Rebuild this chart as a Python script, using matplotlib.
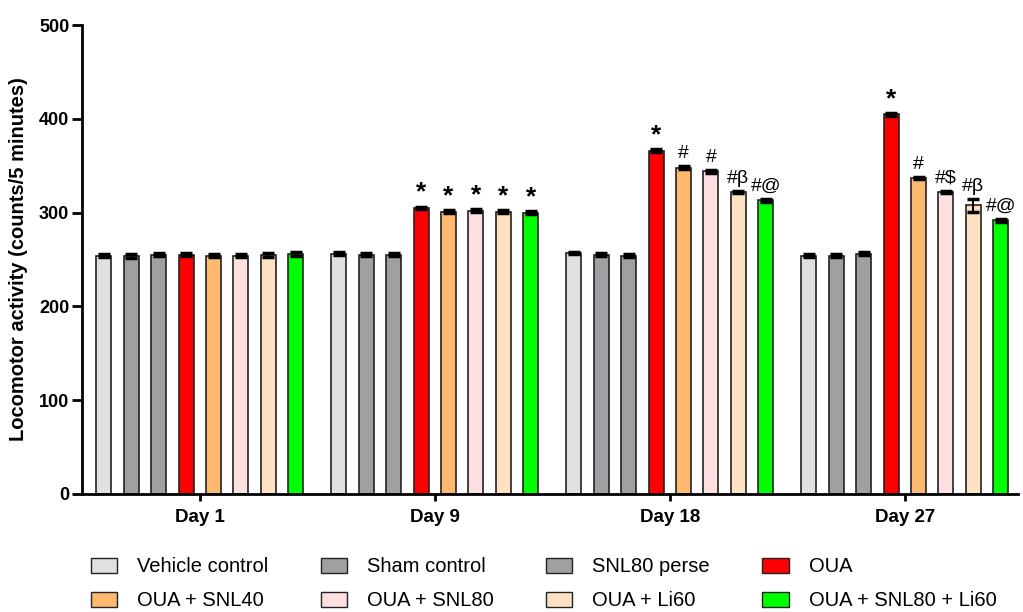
import numpy as np
import matplotlib.pyplot as plt
from matplotlib.patches import Patch

plt.rcParams['font.family'] = ['Liberation Sans', 'DejaVu Sans']

days = ["Day 1", "Day 9", "Day 18", "Day 27"]
groups = ["Vehicle control", "Sham control", "SNL80 perse", "OUA",
          "OUA + SNL40", "OUA + SNL80", "OUA + Li60", "OUA + SNL80 + Li60"]
colors = ["#e0e0e0", "#a0a0a4", "#a0a0a0", "#ff0000",
          "#ffb870", "#ffe0e0", "#ffe0c0", "#00ff00"]

# rows = groups, columns = days
means = np.array([
    [254, 256, 257, 254],
    [254, 255, 255, 254],
    [255, 255, 254, 256],
    [255, 305, 366, 405],
    [254, 301, 348, 337],
    [254, 302, 344, 322],
    [255, 301, 322, 308],
    [256, 300, 313, 292],
])
errs = np.array([
    [1.5, 1.5, 1.5, 1.5],
    [2, 1.5, 1.5, 1.5],
    [1.5, 1.5, 1.5, 1.5],
    [1.5, 1.5, 1.5, 1.5],
    [1.5, 1.5, 1.5, 1.5],
    [1.5, 1.5, 1.5, 1.5],
    [2, 1.5, 1.5, 7],
    [2, 1.5, 1.5, 1.5],
])
marks = [
    ["", "", "", ""],
    ["", "", "", ""],
    ["", "", "", ""],
    ["", "*", "*", "*"],
    ["", "*", "#", "#"],
    ["", "*", "#", "#$"],
    ["", "*", "#β", "#β"],
    ["", "*", "#@", "#@"],
]

fig = plt.figure(figsize=(10.23, 6.12), dpi=100)
ax = fig.add_axes([0.080, 0.193, 0.915, 0.766])

x = np.arange(len(days))
step = 0.1166
width = 0.064
for i in range(len(groups)):
    pos = x + (i - 3.5) * step
    ax.bar(pos, means[i], width, color=colors[i], edgecolor="#222222", linewidth=1.2, zorder=2)
    ax.errorbar(pos, means[i], yerr=errs[i], fmt="none", ecolor="black",
                elinewidth=1.5, capsize=4, capthick=2.5, zorder=3)
    for j in range(len(days)):
        m = marks[i][j]
        if not m:
            continue
        top = means[i][j] + errs[i][j]
        if m == "*":
            ax.text(pos[j], top + 2, m, ha="center", va="bottom", fontsize=19, fontweight="bold")
        else:
            ax.text(pos[j], top + 4, m, ha="center", va="bottom", fontsize=14)

ax.set_xlim(-0.502, 3.481)
ax.set_ylim(0, 500)
ax.set_yticks(range(0, 501, 100))
ax.set_xticks(x)
ax.set_xticklabels(days, fontweight="bold", fontsize=13.5)
for t in ax.get_yticklabels():
    t.set_fontweight("bold")
    t.set_fontsize(13)
ax.set_ylabel("Locomotor activity (counts/5 minutes)", fontweight="bold", fontsize=14.5, labelpad=8)
ax.spines["top"].set_visible(False)
ax.spines["right"].set_visible(False)
ax.spines["left"].set_linewidth(2)
ax.spines["bottom"].set_linewidth(2)
ax.tick_params(axis="y", width=2, length=7, pad=2)
ax.tick_params(axis="x", width=2, length=5, pad=6)

handles = [Patch(facecolor=c, edgecolor="#222222", label=g) for g, c in zip(groups, colors)]
order = [0, 4, 1, 5, 2, 6, 3, 7]
fig.legend([handles[k] for k in order], [groups[k] for k in order], ncol=4,
           loc="lower left", bbox_to_anchor=(0.071, -0.027), frameon=False,
           fontsize=14.5, handlelength=1.3, handleheight=0.8, columnspacing=2.6,
           labelspacing=0.75, handletextpad=1.0)

fig.savefig("out.png", dpi=100)
